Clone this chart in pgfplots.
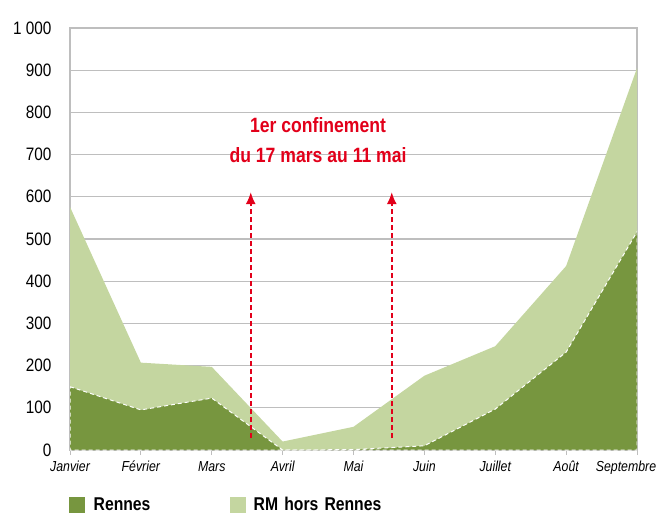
\documentclass[border=0pt]{standalone}
\usepackage{fontspec}
\setmainfont{Liberation Sans}[FakeStretch=0.85]
\usepackage{pgfplots}
\pgfplotsset{compat=1.18}
\usetikzlibrary{arrows.meta}
\definecolor{dk}{RGB}{119,150,63}
\definecolor{lt}{RGB}{196,214,160}
\definecolor{rd}{RGB}{226,0,26}
\definecolor{gr}{RGB}{190,190,190}
\begin{document}
\begin{tikzpicture}
\begin{axis}[name=ax, at={(0,0)}, anchor=south west,
  scale only axis, width=567pt, height=422pt,
  xmin=0, xmax=8, ymin=0, ymax=1000,
  stack plots=y,
  xtick={0,...,8},
  xticklabels={Janvier,Février,Mars,Avril,Mai,Juin,Juillet,Août,Septembre\hspace*{22pt}},
  ytick={0,100,...,1000},
  yticklabels={0,100,200,300,400,500,600,700,800,900,1 000},
  ymajorgrids, grid style={gr, line width=1.3pt},
  axis line style={gr, line width=1.2pt},
  x tick label style={font=\fontsize{14.5}{16}\selectfont\itshape, yshift=-5pt, text height=1.5ex, text depth=0.3ex},
  y tick label style={font=\fontsize{18}{19}\selectfont, xshift=-10pt},
  xtick style={gr, line width=1pt}, major tick length=5pt, tick align=outside,
  xtick pos=left,
  ytick style={draw=none},
  /pgf/number format/assume math mode=true,
  legend columns=2,
  legend style={at={(axis description cs:-0.0018,-0.130)}, anchor=west, draw=none,
    fill=none, inner sep=0pt, column sep=0pt,
    nodes={inner sep=0pt, text width=136pt, align=left, anchor=west,
      font=\fontsize{18.5}{20}\selectfont\bfseries}},
  legend image code/.code={\path[#1, draw=none] (0pt,-8pt) rectangle (16pt,8pt); \path (24pt,0pt);},
]
\addplot[fill=dk, draw=white, dash pattern=on 4pt off 3pt, line width=1pt] coordinates {
 (0,150) (1,95) (2,123) (3,0) (4,1) (5,10) (6,97) (7,232) (8,517)} \closedcycle;
\addlegendentry{Rennes}
\addplot[fill=lt, draw=none] coordinates {
 (0,426) (1,112) (2,74) (3,20) (4,54) (5,166) (6,149) (7,204) (8,388)} \closedcycle;
\addlegendentry{RM hors Rennes}
\node[rd, font=\fontsize{20.7}{22}\selectfont\bfseries] at (axis cs:3.5,770) {1er confinement};
\node[rd, font=\fontsize{20.7}{22}\selectfont\bfseries] at (axis cs:3.5,699) {du 17 mars au 11 mai};
\coordinate (a1) at (axis cs:2.55,28);
\coordinate (b1) at (axis cs:2.55,611);
\coordinate (a2) at (axis cs:4.54,28);
\coordinate (b2) at (axis cs:4.54,611);
\end{axis}
\draw[rd, line width=1.6pt, dash pattern=on 5pt off 3pt, -{Latex[length=12pt,width=10pt]}] (a1) -- (b1);
\draw[rd, line width=1.6pt, dash pattern=on 5pt off 3pt, -{Latex[length=12pt,width=10pt]}] (a2) -- (b2);
\pgfresetboundingbox
\path[use as bounding box] ([shift={(-70pt,-63pt)}]ax.south west) rectangle ([shift={(19pt,28pt)}]ax.north east);
\end{tikzpicture}
\end{document}
